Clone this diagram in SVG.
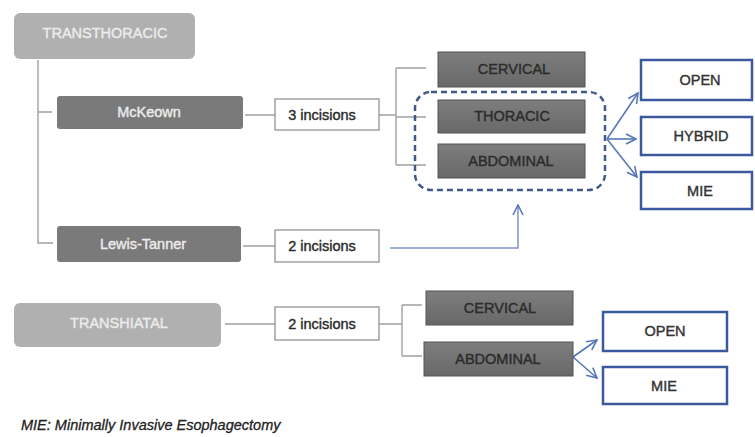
<svg xmlns="http://www.w3.org/2000/svg" width="755" height="437" viewBox="0 0 755 437">
<defs>
<linearGradient id="g" x1="0" y1="0" x2="0" y2="1"><stop offset="0" stop-color="#7e7e7e"/><stop offset="1" stop-color="#686868"/></linearGradient>
<marker id="ah" viewBox="0 0 12 12" refX="11" refY="6" markerWidth="12" markerHeight="12" markerUnits="userSpaceOnUse" orient="auto"><path d="M1,1 L11,6 L1,11" fill="none" stroke="#5877b8" stroke-width="1.6"/></marker>
<style>
text{font-family:"Liberation Sans",Arial,sans-serif;font-size:14.5px;text-anchor:middle;stroke-width:0.4px}
.lt{fill:#b0b0b0}
.dk{fill:#7a7a7a}
.lw{fill:#ececec;stroke:#ececec}
.inc{fill:#fff;stroke:#8a8a8a;stroke-width:1.2}
.gb{fill:url(#g);stroke:#555;stroke-width:1}
.gt{fill:#2b2b2b;stroke:#2b2b2b}
.bb{fill:#fff;stroke:#3b5a9c;stroke-width:2.5}
.bt{fill:#333;stroke:#333}
.ln{fill:none;stroke:#a0a0a0;stroke-width:1.4}
.ar{fill:none;stroke:#5877b8;stroke-width:1.6}
</style>
</defs>
<g id="connectors">
<path class="ln" d="M38,60 V243 H53 M38,112 H52 M245,115 H275 M379,115 H396 M396,68 V165 M396,68 H426 M396,117 H426 M396,165 H426 M243,246 H275 M225,324 H275 M379,324 H402 M402,305 V356 M402,305 H422 M402,356 H422"/>
<path d="M390,248 H518 V205" fill="none" stroke="#7d95cb" stroke-width="1.5" marker-end="url(#ah)"/>
<path class="ar" d="M607,139 L638,93" marker-end="url(#ah)"/>
<path class="ar" d="M607,139 L636,139" marker-end="url(#ah)"/>
<path class="ar" d="M607,139 L637,177" marker-end="url(#ah)"/>
<path class="ar" d="M573,357 L597,340" marker-end="url(#ah)"/>
<path class="ar" d="M573,357 L597,378" marker-end="url(#ah)"/>
<rect x="415" y="92" width="190" height="98" rx="16" fill="none" stroke="#41598a" stroke-width="2.5" stroke-dasharray="6,4"/>
</g>
<g id="transthoracic"><rect class="lt" x="14" y="13" width="181" height="46" rx="6"/><text class="lw" x="105" y="38">TRANSTHORACIC</text></g>
<g id="mckeown"><rect class="dk" x="57" y="96" width="186" height="33" rx="3"/><text class="lw" x="149" y="117">McKeown</text></g>
<g id="inc3"><rect class="inc" x="275" y="99" width="104" height="31"/><text class="gt" x="322" y="120">3 incisions</text></g>
<g id="cervical1"><rect class="gb" x="438" y="52" width="147" height="35"/><text class="gt" x="514" y="74">CERVICAL</text></g>
<g id="thoracic"><rect class="gb" x="438" y="100" width="147" height="33"/><text class="gt" x="512" y="121">THORACIC</text></g>
<g id="abdominal1"><rect class="gb" x="438" y="144" width="147" height="34"/><text class="gt" x="511" y="166">ABDOMINAL</text></g>
<g id="open1"><rect class="bb" x="641" y="60" width="111" height="40"/><text class="bt" x="700" y="85">OPEN</text></g>
<g id="hybrid"><rect class="bb" x="641" y="117" width="111" height="38"/><text class="bt" x="701" y="141">HYBRID</text></g>
<g id="mie1"><rect class="bb" x="641" y="172" width="111" height="37"/><text class="bt" x="700" y="196">MIE</text></g>
<g id="lewis"><rect class="dk" x="57" y="226" width="184" height="36" rx="3"/><text class="lw" x="143" y="249">Lewis-Tanner</text></g>
<g id="inc2a"><rect class="inc" x="275" y="230" width="104" height="32"/><text class="gt" x="322" y="251">2 incisions</text></g>
<g id="transhiatal"><rect class="lt" x="14" y="303" width="207" height="44" rx="6"/><text class="lw" x="119" y="328">TRANSHIATAL</text></g>
<g id="inc2b"><rect class="inc" x="275" y="307" width="104" height="33"/><text class="gt" x="322" y="329">2 incisions</text></g>
<g id="cervical2"><rect class="gb" x="426" y="291" width="147" height="34"/><text class="gt" x="500" y="313">CERVICAL</text></g>
<g id="abdominal2"><rect class="gb" x="424" y="342" width="149" height="34"/><text class="gt" x="498" y="364">ABDOMINAL</text></g>
<g id="open2"><rect class="bb" x="603" y="312" width="124" height="39"/><text class="bt" x="665" y="336">OPEN</text></g>
<g id="mie2"><rect class="bb" x="603" y="367" width="124" height="37"/><text class="bt" x="664" y="391">MIE</text></g>
<text x="21" y="430" style="text-anchor:start;font-style:italic;font-size:14.5px;fill:#222;stroke:#222;stroke-width:0.3px">MIE: Minimally Invasive Esophagectomy</text>
</svg>
